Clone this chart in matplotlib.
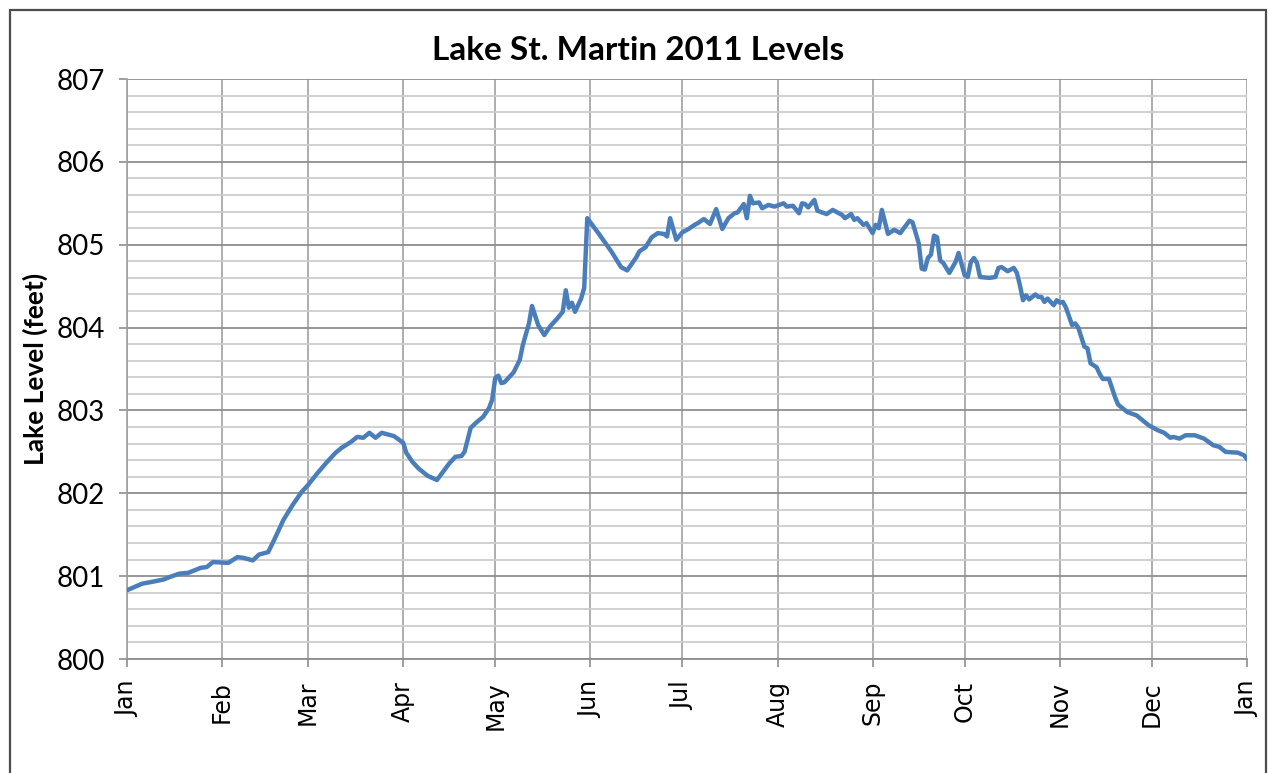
import matplotlib
matplotlib.use("Agg")
import matplotlib.pyplot as plt
from matplotlib.patches import Rectangle
from matplotlib.ticker import MultipleLocator, NullFormatter

# Lake St. Martin water level, 2011 (day of year offset from Jan 1, level in feet)
days = [0, 5, 8, 12, 14, 17, 20, 24, 26, 28, 33, 36, 38, 41, 43, 46, 48, 51, 54, 57,
        59, 62, 65, 68, 70, 73, 75, 77, 79, 81, 83, 87, 90, 91, 93, 95, 98, 101, 103, 105,
        107, 109, 110, 112, 114, 116, 118, 119, 120, 121, 122, 123, 126, 128, 129, 131, 132, 134, 136, 138,
        140, 142, 143, 144, 145, 146, 148, 149, 150, 154, 158, 161, 163, 166, 167, 169, 171, 173, 175, 176,
        177, 179, 181, 183, 185, 186, 188, 190, 192, 194, 196, 198, 199, 201, 202, 203, 204, 206, 207, 209,
        211, 214, 215, 217, 219, 220, 221, 222, 224, 225, 228, 230, 233, 234, 236, 237, 238, 240, 241, 243,
        244, 245, 246, 248, 250, 252, 255, 256, 258, 259, 260, 261, 262, 263, 264, 265, 266, 268, 270, 271,
        273, 274, 275, 276, 277, 278, 281, 283, 284, 285, 287, 289, 290, 291, 292, 293, 294, 296, 297, 298,
        299, 300, 302, 303, 304, 305, 306, 308, 309, 310, 312, 313, 314, 316, 317, 318, 320, 322, 323, 326,
        329, 331, 333, 336, 338, 340, 341, 343, 345, 348, 351, 354, 356, 358, 362, 364, 365]
levels = [800.83, 800.91, 800.93, 800.96, 800.99, 801.03, 801.04, 801.10, 801.11, 801.17,
          801.16, 801.23, 801.22, 801.19, 801.26, 801.29, 801.44, 801.68, 801.86, 802.02,
          802.10, 802.24, 802.37, 802.49, 802.55, 802.62, 802.68, 802.67, 802.73, 802.67,
          802.73, 802.69, 802.61, 802.49, 802.38, 802.30, 802.21, 802.16, 802.26, 802.36,
          802.44, 802.45, 802.50, 802.79, 802.86, 802.92, 803.03, 803.13, 803.39, 803.42,
          803.33, 803.34, 803.46, 803.61, 803.79, 804.05, 804.26, 804.03, 803.91, 804.02,
          804.10, 804.19, 804.45, 804.24, 804.30, 804.19, 804.35, 804.48, 805.32, 805.12,
          804.91, 804.73, 804.69, 804.85, 804.92, 804.97, 805.09, 805.14, 805.13, 805.10,
          805.32, 805.06, 805.15, 805.19, 805.24, 805.26, 805.31, 805.25, 805.43, 805.19,
          805.32, 805.38, 805.39, 805.49, 805.32, 805.59, 805.50, 805.51, 805.44, 805.48,
          805.46, 805.50, 805.46, 805.47, 805.38, 805.50, 805.49, 805.45, 805.54, 805.41,
          805.37, 805.42, 805.36, 805.32, 805.37, 805.30, 805.32, 805.24, 805.26, 805.14,
          805.24, 805.20, 805.42, 805.13, 805.18, 805.14, 805.29, 805.27, 805.02, 804.71,
          804.70, 804.84, 804.88, 805.11, 805.09, 804.81, 804.78, 804.66, 804.79, 804.90,
          804.63, 804.61, 804.79, 804.84, 804.78, 804.61, 804.60, 804.61, 804.72, 804.73,
          804.68, 804.72, 804.66, 804.51, 804.33, 804.39, 804.34, 804.40, 804.37, 804.37,
          804.31, 804.35, 804.27, 804.33, 804.30, 804.31, 804.24, 804.03, 804.05, 804.00,
          803.77, 803.75, 803.57, 803.52, 803.44, 803.38, 803.38, 803.16, 803.07, 802.98,
          802.94, 802.88, 802.82, 802.76, 802.73, 802.67, 802.68, 802.66, 802.70, 802.70,
          802.66, 802.58, 802.56, 802.50, 802.49, 802.46, 802.41]

month_starts = [0, 31, 59, 90, 120, 151, 181, 212, 243, 273, 304, 334, 365]
month_labels = ["Jan", "Feb", "Mar", "Apr", "May", "Jun", "Jul",
                "Aug", "Sep", "Oct", "Nov", "Dec", "Jan"]

title = "Lake St. Martin 2011 Levels"
ylabel = "Lake Level (feet)"

W, H = 1271, 773
fig = plt.figure(figsize=(W / 100, H / 100), dpi=100)
fig.patch.set_facecolor("white")

# outer chart frame (bottom edge runs past the canvas)
fig.add_artist(Rectangle((10 / W, -0.05), 1256 / W, 1.05 - 10.5 / H,
                         transform=fig.transFigure, fill=False,
                         edgecolor="#4d4d4d", linewidth=1.6))

ax = fig.add_axes([127 / W, 1 - 659 / H, (1247 - 127) / W, (659 - 79) / H])

ax.plot(days, levels, color="#4a7ebb", linewidth=3.2, solid_joinstyle="round",
        solid_capstyle="round", zorder=3)

ax.set_xlim(0, 365)
ax.set_ylim(800, 807)

ax.set_xticks(month_starts)
ax.set_xticklabels(month_labels, rotation=90, family="DejaVu Sans", fontsize=17)
ax.yaxis.set_major_locator(MultipleLocator(1))
ax.yaxis.set_minor_locator(MultipleLocator(0.2))
ax.yaxis.set_minor_formatter(NullFormatter())
for lbl in ax.get_yticklabels():
    lbl.set_family("Lato")
    lbl.set_fontsize(20)

ax.grid(axis="x", which="major", color="#a0a0a0", linewidth=1.2, zorder=0)
ax.grid(axis="y", which="major", color="#8e8e8e", linewidth=1.3, zorder=1)
ax.grid(axis="y", which="minor", color="#cdcdcd", linewidth=1.3, zorder=0)
ax.set_axisbelow(True)

ax.tick_params(axis="both", which="major", direction="out", length=5.8,
               color="#8e8e8e", width=1.2, labelcolor="black")
ax.tick_params(axis="y", which="major", pad=10)
ax.tick_params(axis="x", which="major", pad=10)
ax.tick_params(axis="y", which="minor", length=0)

for side in ["top", "right"]:
    ax.spines[side].set_visible(False)
ax.spines["left"].set_color("#a0a0a0")
ax.spines["left"].set_linewidth(1.2)
ax.spines["bottom"].set_color("#8e8e8e")
ax.spines["bottom"].set_linewidth(1.3)

ax.set_ylabel(ylabel, family="Lato", fontweight="bold", fontsize=19, labelpad=6)
fig.text(638 / W, 1 - 50 / H, title, family="Lato", fontweight="bold",
         fontsize=24, ha="center", va="center")

fig.savefig("out.png", dpi=100)
